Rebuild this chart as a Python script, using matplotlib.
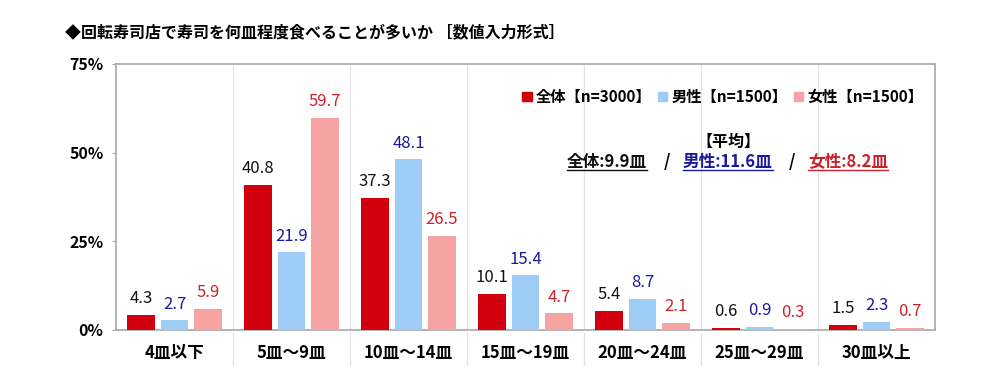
import matplotlib
matplotlib.use("Agg")
import matplotlib.pyplot as plt
import numpy as np
from matplotlib.patches import Rectangle
from matplotlib.lines import Line2D

plt.rcParams['font.family'] = ['Noto Sans CJK JP', 'DejaVu Sans']

categories = ["4皿以下", "5皿～9皿", "10皿～14皿", "15皿～19皿", "20皿～24皿", "25皿～29皿", "30皿以上"]
total = [4.3, 40.8, 37.3, 10.1, 5.4, 0.6, 1.5]
male = [2.7, 21.9, 48.1, 15.4, 8.7, 0.9, 2.3]
female = [5.9, 59.7, 26.5, 4.7, 2.1, 0.3, 0.7]
series_names = ["全体【n=3000】", "男性【n=1500】", "女性【n=1500】"]
yticks = [0, 25, 50, 75]
title = "◆回転寿司店で寿司を何皿程度食べることが多いか ［数値入力形式］"
mean_header = "【平均】"
mean_texts = ["全体:9.9皿", "男性:11.6皿", "女性:8.2皿"]

bar_colors = ["#D2000F", "#9DCCF7", "#F5A3A3"]
label_colors = ["#111111", "#1A1A9C", "#C8232C"]
spine_col = "#A8A8A8"

fig = plt.figure(figsize=(10, 3.89), dpi=100)
ax = fig.add_axes([0.116, 1 - 330 / 389, 0.819, (330 - 64) / 389])

x = np.arange(len(categories))
offs = [-0.286, 0.0, 0.286]
w = 0.239
for s, (vals, off) in enumerate(zip([total, male, female], offs)):
    ax.bar(x + off, vals, width=w, color=bar_colors[s], zorder=3)
    for xi, v in zip(x, vals):
        ax.text(xi + off, v + 2.2, f"{v:.1f}", ha='center', va='bottom',
                fontsize=12, color=label_colors[s], zorder=4)

ax.set_xlim(-0.5, len(categories) - 0.5)
ax.set_ylim(0, 75)
ax.set_yticks(yticks)
ax.set_yticklabels([f"{t}%" for t in yticks], fontsize=11.5, fontweight='bold')
ax.tick_params(axis='y', length=3, color=spine_col, pad=6)
ax.set_xticks([])
for sp in ax.spines.values():
    sp.set_color(spine_col)
    sp.set_linewidth(1.2)

# vertical separators
for b in np.arange(0.5, len(categories) - 0.5, 1.0):
    ax.axvline(b, color="#E2E2E2", lw=0.9, zorder=1)
    ax.plot([b, b], [-0.012, -0.13], transform=ax.get_xaxis_transform(),
            color="#E2E2E2", lw=0.9, clip_on=False)

for xi, c in zip(x, categories):
    ax.text(xi, -0.085, c, transform=ax.get_xaxis_transform(), ha='center', va='center',
            fontsize=12, fontweight='bold')

fig.text(0.065, 1 - 32 / 389, title, fontsize=11.5, fontweight='bold', va='center', ha='left')

# legend
handles = [Rectangle((0, 0), 1, 1, color=c) for c in bar_colors]
leg = ax.legend(handles, series_names, loc='center right', bbox_to_anchor=(0.995, 1 - (97 - 64) / 266),
                ncol=3, frameon=False, handlelength=0.6, handleheight=0.6, handletextpad=0.3,
                columnspacing=0.4, borderpad=0, prop={'size': 11, 'weight': 'bold'})

# mean block
fig.text(0.728, 1 - 142 / 389, mean_header, fontsize=11.5, fontweight='bold', ha='center', va='center')
fig.canvas.draw()
renderer = fig.canvas.get_renderer()
ymean = 1 - 162 / 389
positions = [0.567, 0.683, 0.808]
slashes = [0.667, 0.792]
for t, xp, col in zip(mean_texts, positions, label_colors):
    tt = fig.text(xp, ymean, t, fontsize=12, fontweight='bold', ha='left', va='center', color=col)
    bb = tt.get_window_extent(renderer).transformed(fig.transFigure.inverted())
    fig.add_artist(Line2D([bb.x0, bb.x1], [bb.y0 + 0.002, bb.y0 + 0.002], color=col, lw=1.0,
                          transform=fig.transFigure))
for xs in slashes:
    fig.text(xs, ymean, "/", fontsize=12, fontweight='bold', ha='center', va='center')

fig.savefig("out.png", dpi=100, facecolor='white')
